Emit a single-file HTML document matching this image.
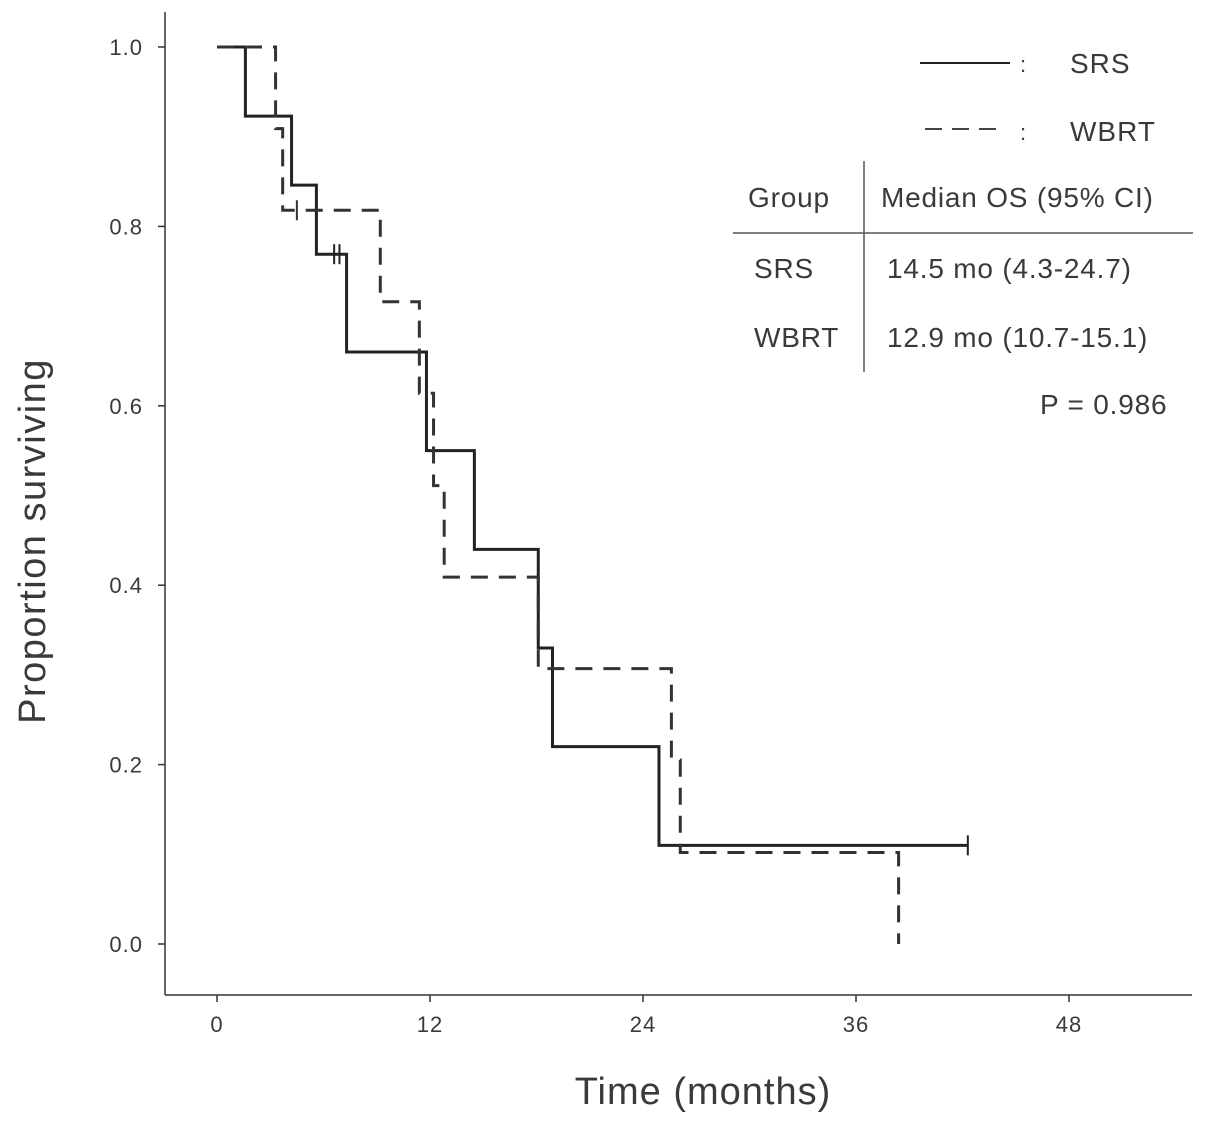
<!DOCTYPE html>
<html><head><meta charset="utf-8"><style>
body{margin:0;background:#fff;}
svg{display:block;font-family:"Liberation Sans",sans-serif;}
</style></head><body>
<svg id="chart" width="1205" height="1126" viewBox="0 0 1205 1126">
<g id="axes"></g>
<g id="series"></g>
<g fill="#3a3a3a" font-size="28" letter-spacing="1">
<line x1="920" y1="63" x2="1010" y2="63" stroke="#222" stroke-width="2"/>
<text x="1020" y="72" font-size="22">:</text>
<text x="1070" y="73">SRS</text>
<line x1="925" y1="129" x2="1005" y2="129" stroke="#444" stroke-width="2" stroke-dasharray="17,10"/>
<text x="1020" y="140" font-size="22">:</text>
<text x="1070" y="141">WBRT</text>
</g>
<g fill="#3a3a3a" font-size="28" letter-spacing="0.8">
<line x1="864" y1="161" x2="864" y2="372" stroke="#555" stroke-width="1.5"/>
<line x1="733" y1="233" x2="1193" y2="233" stroke="#555" stroke-width="1.5"/>
<text x="748" y="207">Group</text>
<text x="881" y="207">Median OS (95% CI)</text>
<text x="754" y="278">SRS</text>
<text x="887" y="278">14.5 mo (4.3-24.7)</text>
<text x="754" y="347">WBRT</text>
<text x="887" y="347">12.9 mo (10.7-15.1)</text>
<text x="1040" y="414">P = 0.986</text>
</g>
<text x="703" y="1104" font-size="38" fill="#3a3a3a" letter-spacing="1" text-anchor="middle">Time (months)</text>
<text transform="translate(45,541) rotate(-90)" font-size="38" fill="#3a3a3a" letter-spacing="1.5" text-anchor="middle">Proportion surviving</text>
</svg>
<script>
const xTicks=[0,12,24,36,48];
const yTicks=[0.0,0.2,0.4,0.6,0.8,1.0];
const yTickLabels=["0.0","0.2","0.4","0.6","0.8","1.0"];
const srsTimes=[1.6,4.2,5.6,7.3,11.8,14.5,18.1,18.9,24.9];
const srsSurv=[0.923,0.846,0.769,0.66,0.55,0.44,0.33,0.22,0.11];
const srsEnd=42.3;
const srsCensor=[6.6,6.9,42.3];
const srsCensorSurv=[0.769,0.769,0.11];
const wbrtTimes=[3.3,3.7,9.2,11.4,12.2,12.8,18.1,25.6,26.1,38.4];
const wbrtSurv=[0.909,0.818,0.716,0.614,0.511,0.409,0.307,0.205,0.102,0.0];
const wbrtCensor=[4.5];
const wbrtCensorSurv=[0.818];
const X=m=>217+m*17.75;
const Y=v=>944-v*897;
const NS="http://www.w3.org/2000/svg";
function mk(tag,attrs,parent){const e=document.createElementNS(NS,tag);for(const k in attrs)e.setAttribute(k,attrs[k]);parent.appendChild(e);return e;}
const ax=document.getElementById('axes');
const xa=mk('line',{x1:165,y1:995,x2:1192,y2:995,stroke:'#333','stroke-width':1.5},ax);


const ya=mk('line',{x1:165,y1:12,x2:165,y2:995,stroke:'#333','stroke-width':1.5},ax);


xTicks.forEach(t=>{
 mk('line',{x1:X(t),y1:995,x2:X(t),y2:1002,stroke:'#333','stroke-width':1.5},ax);
 const tx=mk('text',{x:X(t),y:1032,'font-size':22,'letter-spacing':1,fill:'#3a3a3a','text-anchor':'middle'},ax);
 tx.textContent=t;
 
 
});
yTicks.forEach((t,i)=>{
 mk('line',{x1:158,y1:Y(t),x2:165,y2:Y(t),stroke:'#333','stroke-width':1.5},ax);
 const tx=mk('text',{x:143,y:Y(t)+8,'font-size':22,'letter-spacing':1,fill:'#3a3a3a','text-anchor':'end'},ax);
 tx.textContent=yTickLabels[i];
 
 
});
const sg=document.getElementById('series');
function stepPath(times,surv,end){
 let d=`M${X(0)},${Y(1)}`;
 times.forEach((t,i)=>{d+=` H${X(t)} V${Y(surv[i])}`;});
 if(end!==null)d+=` H${X(end)}`;
 return d;
}
const p1=mk('path',{d:stepPath(srsTimes,srsSurv,srsEnd),fill:'none',stroke:'#222','stroke-width':3},sg);


const p2=mk('path',{d:stepPath(wbrtTimes,wbrtSurv,null),fill:'none',stroke:'#333','stroke-width':3,'stroke-dasharray':'17,11'},sg);


srsCensor.forEach((t,i)=>{
 const c=mk('line',{x1:X(t),y1:Y(srsCensorSurv[i])-10,x2:X(t),y2:Y(srsCensorSurv[i])+10,stroke:'#222','stroke-width':2},sg);
 
 
});
wbrtCensor.forEach((t,i)=>{
 const c=mk('line',{x1:X(t),y1:Y(wbrtCensorSurv[i])-10,x2:X(t),y2:Y(wbrtCensorSurv[i])+10,stroke:'#333','stroke-width':2},sg);
 
 
});
</script>
</body></html>
